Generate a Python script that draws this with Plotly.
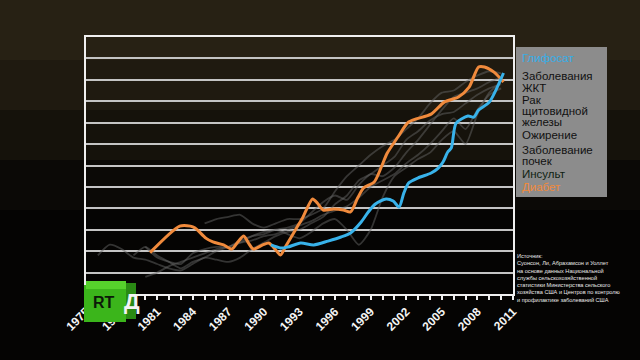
import plotly.graph_objects as go

# ---------------- data (values in grid units, 0 = bottom, 12 = top) ----------------
diabetes_years = [1980.4, 1982.9, 1983.8, 1984.2, 1985.1, 1985.7, 1986.6, 1987.3, 1987.8,
                  1988.3, 1988.7, 1989.1, 1989.9, 1990.4, 1990.8, 1991.4, 1991.8, 1992.8,
                  1993.3, 1994.1, 1994.5, 1995.0, 1995.9, 1996.7, 1997.3, 1997.9, 1998.4,
                  1999.3, 1999.9, 2000.4, 2001.3, 2002.2, 2004.1, 2005.2, 2006.4, 2007.3,
                  2008.1, 2008.6, 2009.4, 2010.2]
diabetes_vals = [1.93, 3.17, 3.17, 3.08, 2.61, 2.43, 2.29, 2.10, 2.43,
                 2.71, 2.38, 2.10, 2.29, 2.38, 2.19, 1.82, 2.19, 3.13,
                 3.60, 4.44, 4.25, 3.92, 3.97, 3.92, 3.83, 4.48, 4.95,
                 5.23, 5.93, 6.58, 7.33, 8.03, 8.40, 8.96, 9.20, 9.66,
                 10.60, 10.60, 10.36, 9.90]

glyphosate_years = [1990.6, 1991.4, 1992.0, 1993.1, 1994.2, 1995.4, 1996.5, 1997.3, 1998.2,
                    1998.8, 1999.4, 2000.3, 2000.9, 2001.4, 2001.8, 2002.2, 2003.0, 2004.1,
                    2004.7, 2005.1, 2005.5, 2005.8, 2006.2, 2007.2, 2007.7, 2008.1, 2009.0,
                    2010.2]
glyphosate_vals = [2.29, 2.15, 2.19, 2.38, 2.29, 2.47, 2.66, 2.85, 3.36,
                   3.83, 4.20, 4.44, 4.34, 4.06, 4.72, 5.18, 5.42, 5.65,
                   5.88, 6.16, 6.63, 6.82, 7.98, 8.31, 8.26, 8.59, 8.96,
                   10.32]

gi_years = list(range(1976, 2011))
gi_vals = [1.8, 2.3, 2.1, 1.7, 1.6, 1.4, 1.2, 1.1, 1.4, 1.7, 1.6, 1.5, 1.7, 2.1, 2.4, 2.7,
           2.9, 3.0, 3.3, 3.6, 4.2, 4.6, 5.3, 5.6, 6.0, 6.4, 7.2, 7.6, 8.1, 8.4, 8.5, 8.9,
           9.3, 9.6, 9.8]

thyroid_years = list(range(1985, 2011))
thyroid_vals = [3.3, 3.5, 3.6, 3.7, 3.3, 3.1, 3.3, 3.5, 3.5, 3.7, 4.0, 4.8, 5.5, 6.0, 6.5,
                6.9, 7.2, 7.7, 8.2, 8.9, 9.4, 9.5, 9.9, 10.2, 10.4, 10.3]

obesity_years = list(range(1980, 2011))
obesity_vals = [0.8, 1.0, 1.3, 1.5, 1.7, 1.9, 2.1, 2.2, 2.4, 2.5, 2.7, 2.8, 3.0, 3.2, 3.4,
                3.7, 3.9, 4.1, 4.5, 5.0, 5.3, 5.6, 6.1, 6.5, 7.0, 7.6, 8.2, 7.7, 8.6, 9.3, 9.6]

kidney_years = list(range(1979, 2011))
kidney_vals = [1.8, 2.2, 1.8, 1.5, 1.2, 1.5, 1.7, 2.0, 2.2, 2.4, 2.7, 2.9, 3.0, 2.8, 2.6,
               2.9, 3.3, 3.5, 3.0, 2.3, 3.0, 4.5, 5.5, 5.9, 6.3, 6.6, 7.2, 7.6, 7.0, 8.4,
               9.4, 9.9]

stroke_years = list(range(1980, 2011))
stroke_vals = [2.2, 1.7, 1.5, 1.4, 1.9, 2.1, 2.2, 2.2, 2.5, 2.7, 2.8, 3.0, 3.1, 3.3, 3.8,
               4.3, 4.6, 4.4, 5.1, 5.6, 5.5, 5.9, 6.6, 7.2, 7.9, 8.6, 9.2, 9.4, 9.6, 9.9, 10.1]

tick_years = list(range(1975, 2012, 3))

# legend lines: (text, colour)
legend_lines = [
    ("Глифосат", "#35aee8"),
    ("Заболевания", "#111111"),
    ("ЖКТ", "#111111"),
    ("Рак", "#111111"),
    ("щитовидной", "#111111"),
    ("железы", "#111111"),
    ("Ожирение", "#111111"),
    ("Заболевание", "#111111"),
    ("почек", "#111111"),
    ("Инсульт", "#0f1f12"),
    ("Диабет", "#f08a3c"),
]
legend_centers_px = [58, 76, 88, 100, 111, 122, 135, 150, 161, 174, 187]

source_text = ("Источник:<br>Суонсон, Ли, Абрахамсон и Уоллет<br>на основе данных Национальной<br>"
               "службы сельскохозяйственной<br>статистики Министерства сельского<br>"
               "хозяйства США и Центров по контролю<br>и профилактике заболеваний США")

# ---------------- figure ----------------
W, H = 640, 360
L, R, T, B = 86, 127, 37, 66
PW, PH = W - L - R, H - T - B


def px(x):
    return (x - L) / PW


def py(y):
    return (H - B - y) / PH


fig = go.Figure()

gray_series = [(gi_years, gi_vals), (thyroid_years, thyroid_vals), (obesity_years, obesity_vals),
               (kidney_years, kidney_vals), (stroke_years, stroke_vals)]
for yrs, vals in gray_series:
    fig.add_trace(go.Scatter(x=yrs, y=vals, mode="lines",
                             line=dict(color="rgba(100,100,100,0.5)", width=1.8, shape="spline",
                                       smoothing=0.6),
                             hoverinfo="skip", showlegend=False))

fig.add_trace(go.Scatter(x=diabetes_years, y=diabetes_vals, mode="lines",
                         line=dict(color="#f08a3c", width=3, shape="spline", smoothing=0.7),
                         showlegend=False))
fig.add_trace(go.Scatter(x=glyphosate_years, y=glyphosate_vals, mode="lines",
                         line=dict(color="#38b2ea", width=3, shape="spline", smoothing=0.7),
                         showlegend=False))

shapes = []
# dark brownish background glow toward the top
for ytop, ybot, op in [(0, 60, 0.14), (0, 110, 0.14), (0, 160, 0.12), (0, 210, 0.07)]:
    shapes.append(dict(type="rect", xref="paper", yref="paper", layer="below",
                       x0=px(0), x1=px(640), y0=py(ybot), y1=py(ytop),
                       fillcolor=f"rgba(95,80,50,{op})", line=dict(width=0)))
# legend box
shapes.append(dict(type="rect", xref="paper", yref="paper", layer="above",
                   x0=px(516), x1=px(607), y0=py(197), y1=py(47),
                   fillcolor="#8c8c8c", line=dict(width=0)))
# RT logo
shapes.append(dict(type="rect", xref="paper", yref="paper", layer="above",
                   x0=px(84), x1=px(126), y0=py(322), y1=py(285),
                   fillcolor="#3bb51b", line=dict(width=0)))
shapes.append(dict(type="rect", xref="paper", yref="paper", layer="above",
                   x0=px(86), x1=px(126), y0=py(289), y1=py(281),
                   fillcolor="#56d12c", line=dict(width=0)))
shapes.append(dict(type="rect", xref="paper", yref="paper", layer="above",
                   x0=px(126), x1=px(136), y0=py(319), y1=py(283),
                   fillcolor="#2a8a14", line=dict(width=0)))

annotations = []
for (txt, col), yc in zip(legend_lines, legend_centers_px):
    annotations.append(dict(text=txt, xref="paper", yref="paper", x=px(520), y=py(yc),
                            xanchor="left", yanchor="middle", align="left", showarrow=False,
                            font=dict(family="Liberation Sans, Arial, sans-serif", size=11.5,
                                      color=col)))
annotations.append(dict(text=source_text, xref="paper", yref="paper", x=px(515), y=py(251),
                        xanchor="left", yanchor="top", align="left", showarrow=False,
                        font=dict(family="Liberation Sans, Arial, sans-serif", size=5.6,
                                  color="#e8e8e8")))
annotations.append(dict(text="<b>RT</b>", xref="paper", yref="paper", x=px(104), y=py(302),
                        xanchor="center", yanchor="middle", showarrow=False,
                        font=dict(family="Liberation Sans, Arial, sans-serif", size=16,
                                  color="#0c1a08")))
annotations.append(dict(text="<b>Д</b>", xref="paper", yref="paper", x=px(132), y=py(301),
                        xanchor="center", yanchor="middle", showarrow=False,
                        font=dict(family="Liberation Sans, Arial, sans-serif", size=22,
                                  color="#f4f4f4")))

fig.update_layout(
    width=W, height=H,
    margin=dict(l=L, r=R, t=T, b=B),
    paper_bgcolor="#050403",
    plot_bgcolor="rgba(0,0,0,0)",
    shapes=shapes,
    annotations=annotations,
    showlegend=False,
    xaxis=dict(range=[1975, 2011], tickvals=tick_years, ticktext=[str(y) for y in tick_years],
               tickangle=-45, ticks="outside", ticklen=4, tickwidth=2, tickcolor="#f0f0f0",
               minor=dict(ticks="outside", dtick=1, tick0=1975, ticklen=4, tickwidth=2,
                          tickcolor="#f0f0f0", showgrid=False),
               showgrid=False, zeroline=False, showline=True, linecolor="#f0f0f0",
               linewidth=2, mirror=True,
               tickfont=dict(family="Liberation Sans, Arial, sans-serif", size=12,
                             color="#f4f4f4", weight="bold")),
    yaxis=dict(range=[0, 12], dtick=1, showticklabels=False, ticks="",
               showgrid=True, gridcolor="#c4c4c4", gridwidth=2, zeroline=False,
               showline=True, linecolor="#f0f0f0", linewidth=2, mirror=True),
)

fig.write_html("out.html", config={"displayModeBar": False},
               post_script="document.body.style.margin='0';document.body.style.background='#050403';")
